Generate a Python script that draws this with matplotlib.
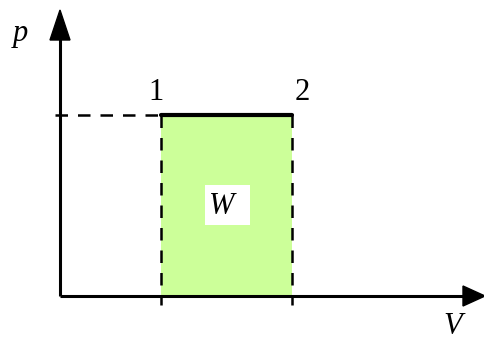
import matplotlib
matplotlib.use("Agg")
import matplotlib.pyplot as plt
from matplotlib.patches import Polygon, Rectangle

# Data (pixel-like units, origin at the axes corner)
v_states = [101, 232]          # V at states 1 and 2
p_level = 181                  # constant pressure
state_labels = ["1", "2"]
axis_labels = ["V", "p"]
work_label = "W"

fig = plt.figure(figsize=(4.85, 3.42), dpi=100)
ax = fig.add_axes([0, 0, 1, 1])
ax.set_xlim(-60, 425)
ax.set_ylim(-46, 296)
ax.axis("off")

font = dict(family="Liberation Serif", fontsize=22)

# shaded work area
ax.fill_between(v_states, 0, p_level, color="#CCFF99", lw=0, zorder=1)

# axes
ax.plot([0, 0], [0, 262], color="black", lw=2.2, zorder=3, solid_capstyle="butt")
ax.plot([0, 408], [0, 0], color="black", lw=2.2, zorder=3, solid_capstyle="butt")
ax.add_patch(Polygon([(0, 286), (-10, 256), (10, 256)], closed=True, color="black", zorder=4))
ax.add_patch(Polygon([(425, 0), (403, 10), (403, -10)], closed=True, color="black", zorder=4))

# dashed guides
dash = dict(color="black", lw=1.8, dashes=(5, 4), zorder=2)
ax.plot([-5, v_states[0]], [p_level, p_level], **dash)
for v in v_states:
    ax.plot([v, v], [p_level, -9], **dash)

# isobaric process line
ax.plot(v_states, [p_level, p_level], color="black", lw=3.0, zorder=5, solid_capstyle="round")

# labels
ax.text(v_states[0] - 5, p_level + 8, state_labels[0], ha="center", va="bottom", **font)
ax.text(v_states[1] + 10, p_level + 8, state_labels[1], ha="center", va="bottom", **font)
ax.text(-40, 262, axis_labels[1], ha="center", va="center", style="italic", **font)
ax.text(393, -31, axis_labels[0], ha="center", va="center", style="italic", **font)

ax.add_patch(Rectangle((145, 71), 45, 40, facecolor="white", edgecolor="none", zorder=3))
ax.text(162, 89, work_label, ha="center", va="center", style="italic", zorder=4, **font)

fig.savefig("out.png", dpi=100)
